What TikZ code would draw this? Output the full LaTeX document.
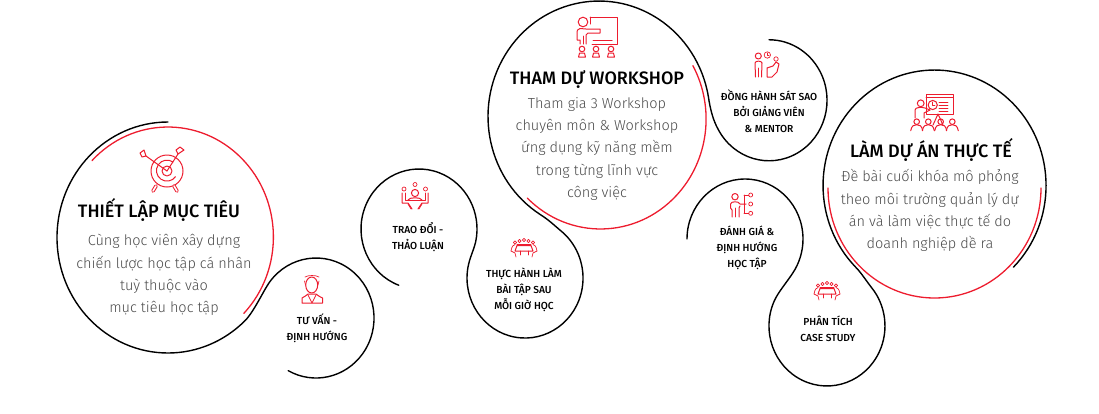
\documentclass[tikz,border=0pt]{standalone}
\usepackage{fontspec}
\setmainfont{Fira Sans}[UprightFont=* Light,BoldFont=* Medium]
\definecolor{accent}{HTML}{ED1C2E}
\definecolor{bodygrey}{HTML}{4A4A4A}
\tikzset{
  outline/.style={draw=black,line width=1.4pt,line cap=round},
  redarc/.style={draw=accent,line width=1.3pt,line cap=round},
  icon/.style={draw=accent,line width=1pt,line join=round,line cap=round},
  thinicon/.style={draw=accent,line width=.7pt,line join=round,line cap=round},
  heading/.style={align=center,font=\fontsize{18}{22}\selectfont\bfseries},
  bodytext/.style={align=center,text=bodygrey,font=\fontsize{14.5}{22.2}\selectfont},
  caption/.style={align=center,font=\fontsize{10.2}{16}\selectfont\bfseries},
  seat/.pic={
    \draw[icon] (0,-3) circle (2.8);
    \draw[icon] (-3.5,5) -- (-2.5,1.2) -- (2.5,1.2) -- (3.5,5) -- cycle;
  },
  viewer/.pic={
    \draw[icon] (0,0) circle (2.8);
    \draw[icon] (-6,9) .. controls (-5,4) and (-3,3) .. (0,3) .. controls (3,3) and (5,4) .. (6,9);
  },
  meeting/.pic={
    \draw[thinicon] (-9,-5.5) circle (1.6);
    \draw[thinicon] (-4.5,-7) circle (1.6);
    \draw[thinicon] (0,-8) circle (1.6);
    \draw[thinicon] (4.5,-7) circle (1.6);
    \draw[thinicon] (9,-5.5) circle (1.6);
    \draw[icon] (-7,-2.5) -- (7,-2.5) -- (9,3) -- (-9,3) -- cycle;
    \draw[thinicon] (-7,-4) -- (7,-4);
    \draw[thinicon] (-13,3) .. controls (-12,-2) and (-11,-3) .. (-9,-3.5);
    \draw[thinicon] (13,3) .. controls (12,-2) and (11,-3) .. (9,-3.5);
    \draw[thinicon] (-13,3) -- (-9,5) -- (-8,9);
    \draw[thinicon] (13,3) -- (9,5) -- (8,9);
    \draw[thinicon] (-4,3) -- (-4,7);
    \draw[thinicon] (4,3) -- (4,7);
  },
}
\begin{document}
\begin{tikzpicture}[x=1pt,y=-1pt]
    \useasboundingbox (0,0) rectangle (1099,413);
    % Outlines
    \draw[outline] (168,122) arc[start angle=270,end angle=46,x radius=111,y radius=115.5]
        .. controls (254,311.6) and (263.8,290) .. (269.7,281.9)
        arc[start angle=217,end angle=478.7,x radius=58,y radius=60];
    \draw[redarc] (92,160.6) arc[start angle=224,end angle=404,x radius=105.5,y radius=110];
    \draw[outline] (398.7,285.2) arc[start angle=110.5,end angle=372,x radius=58,y radius=60]
        .. controls (473.5,251) and (469.6,257.7) .. (467.9,267.6)
        arc[start angle=190,end angle=-50,x radius=58,y radius=60]
        .. controls (555,226) and (549,220) .. (540.2,214.5)
        arc[start angle=122,end angle=350,x radius=111,y radius=115.5]
        .. controls (710.5,111) and (713.5,121) .. (718.3,129.6)
        arc[start angle=151,end angle=-90,x radius=58,y radius=60.5];
    \draw[redarc] (527.3,198.1) arc[start angle=134,end angle=-29,x radius=105.5,y radius=110];
    \draw[outline] (687,239) arc[start angle=180,end angle=395,x radius=58,y radius=60]
        .. controls (786.5,282.5) and (778.1,292.4) .. (774.4,300.6)
        arc[start angle=205,end angle=-40,x radius=58,y radius=60]
        .. controls (866,280.5) and (861,272.5) .. (855.7,267.2)
        arc[start angle=135,end angle=405,x radius=111.5,y radius=115.5];
    \draw[redarc] (828,188) arc[start angle=180,end angle=0,x radius=106.5,y radius=110];

    % Goal
    \draw[icon] (167,171) circle (16);
    \draw[icon] (173,162) arc[start angle=-55,end angle=-325,radius=10.5];
    \draw[icon] (167,171) circle (5);
    \draw[icon] (167,171) -- (146,156);
    \draw[icon] (146,156) -- (144,150) -- (140,153) -- (142,157) -- (146,156);
    \draw[icon] (167,171) -- (178,154);
    \draw[icon] (178,154) -- (176,150) -- (180,147) -- (184,150) -- (178,154);
    \draw[icon,double=white,double distance=1.6pt] (156,186) -- (153,191);
    \draw[icon,double=white,double distance=1.6pt] (174,186) -- (177,191);
    \node[heading] (goaltitle) at (159,210) {THIẾT LẬP MỤC TIÊU};
    \node[bodytext] (goalbody) at (164,275) {Cùng học viên xây dựng\\chiến lược học tập cá nhân\\tuỳ thuộc vào\\mục tiêu học tập};

    % Advice
    \draw[icon] (311.7,285) ellipse (6 and 8);
    \draw[thinicon] (305.5,285) -- (304.5,281);
    \draw[thinicon] (318,285) -- (319,281);
    \draw[thinicon] (305,277) .. controls (308,275) and (316,275) .. (319,277);
    \draw[icon] (302,303) -- (302,298) .. controls (304,296) and (307,296) .. (308,294) -- (316,294)
        .. controls (317,296) and (320,296) .. (322.5,298) -- (322.5,303) -- cycle;
    \draw[thinicon] (308,295) -- (312,303) -- (316,295);
    \node[caption] (advice) at (317,328) {TƯ VẤN -\\ĐỊNH HƯỚNG};

    % Discussion
    \draw[thinicon] (404,189) circle (2);
    \draw[thinicon] (415,184.5) circle (2);
    \draw[thinicon] (425.5,189) circle (2);
    \draw[icon] (415,193) circle (3.6);
    \draw[icon] (408,200) .. controls (409,197) and (421,197) .. (422,200);
    \draw[icon] (408,200) -- (422,200);
    \draw[icon] (402,193) -- (402,203) -- (408,203) -- (412,209);
    \draw[icon] (428,193) -- (428,203) -- (422,203) -- (418,209);
    \draw[thinicon] (405,193) -- (405,200) -- (410,200);
    \draw[thinicon] (425,193) -- (425,200) -- (420,200);
    \draw[thinicon] (408,204) -- (411,209);
    \draw[thinicon] (422,204) -- (419,209);
    \node[caption] (discuss) at (418,237) {TRAO ĐỔI -\\THẢO LUẬN};

    % Practice
    \pic at (524,248) {meeting};
    \node[caption] (practice) at (524,290) {THỰC HÀNH LÀM\\BÀI TẬP SAU\\MỖI GIỜ HỌC};

    % Workshop
    \draw[icon] (590,17) -- (617,17) -- (617,44) -- (592,44);
    \draw[icon] (590,17) -- (590,24);
    \draw[icon] (593,40.5) -- (612,40.5);
    \draw[icon] (583,22) circle (4.8);
    \draw[icon] (586,44) -- (586,35) -- (588,33) -- (600,33) -- (600,29) -- (586,29) -- (580,28.5)
        .. controls (577,29) and (577,31) .. (577,33) -- (577,40) -- (580,40) -- (580,44);
    \draw[icon] (583,36) -- (583,44);
    \pic at (582,52) {seat};
    \pic at (596,52) {seat};
    \pic at (611,52) {seat};
    \node[heading] (worktitle) at (597,80) {THAM DỰ WORKSHOP};
    \node[bodytext] (workbody) at (597,149) {Tham gia 3 Workshop\\chuyên môn \& Workshop\\ứng dụng kỹ năng mềm\\trong từng lĩnh vực\\công việc};

    % Mentor
    \draw[icon] (758.3,56) circle (3);
    \draw[icon] (755.5,77) -- (755,63) .. controls (755,60.5) and (762,60.5) .. (762,63) -- (761.5,77);
    \draw[thinicon] (758.5,68) -- (758.5,77);
    \draw[thinicon] (767.3,55) circle (3.2);
    \draw[thinicon] (767.3,53) -- (767.3,55) -- (769,55);
    \draw[thinicon] (776,59) circle (2.2);
    \draw[icon] (767,77) -- (767,68) -- (773,66) -- (776,62) -- (779,64) -- (777,72) -- (772,77) -- cycle;
    \node[caption] (mentor) at (769,111) {ĐỒNG HÀNH SÁT SAO\\BỞI GIẢNG VIÊN\\\& MENTOR};

    % Review
    \draw[icon] (735,196.7) circle (3.2);
    \draw[icon] (732,217) -- (732,210) -- (730.5,208) -- (730.5,204) .. controls (731,201) and (739,201) .. (740,204) -- (746,204);
    \draw[icon] (739,217) -- (739,208) -- (740,206);
    \draw[thinicon] (735.5,208) -- (735.5,217);
    \draw[thinicon] (744,195) -- (744,213.3);
    \draw[thinicon] (744,195) -- (748.7,195);
    \draw[thinicon] (744,213.3) -- (748.7,213.3);
    \draw[thinicon] (750.7,195) circle (2);
    \draw[thinicon] (750.7,204) circle (2);
    \draw[thinicon] (750.7,213.3) circle (2);
    \node[caption] (review) at (747,248) {ĐÁNH GIÁ \&\\ĐỊNH HƯỚNG\\HỌC TẬP};

    % Case study
    \pic at (827,291) {meeting};
    \node[caption] (casestudy) at (828,328.5) {PHÂN TÍCH\\CASE STUDY};

    % Project
    \draw[icon] (926,94) rectangle (953,114);
    \draw[thinicon] (926,97.5) -- (953,97.5);
    \draw[icon] (932.7,105) circle (4.6);
    \draw[thinicon] (932.7,102) -- (932.7,105) -- (935,105);
    \draw[thinicon] (939,102) -- (948,102);
    \draw[thinicon] (939,105) -- (948,105);
    \draw[thinicon] (939,108) -- (948,108);
    \draw[thinicon] (939,111) -- (948,111);
    \draw[icon] (933,125) -- (938,114) -- (943,125);
    \draw[icon] (920.7,103.3) circle (3.4);
    \draw[icon] (915,118) -- (915,110) .. controls (915,107) and (922,107) .. (925,108) -- (930,110);
    \draw[icon] (924,118) -- (924,113) -- (930,110);
    \pic at (916.7,121.7) {viewer};
    \pic at (928.3,121.7) {viewer};
    \pic at (940.7,121.7) {viewer};
    \pic at (952.3,121.7) {viewer};
    \node[heading] (projecttitle) at (931,150) {LÀM DỰ ÁN THỰC TẾ};
    \node[bodytext] (projectbody) at (930,210.5) {Đề bài cuối khóa mô phỏng\\theo môi trường quản lý dự\\án và làm việc thực tế do\\doanh nghiệp dề ra};
\end{tikzpicture}
\end{document}
